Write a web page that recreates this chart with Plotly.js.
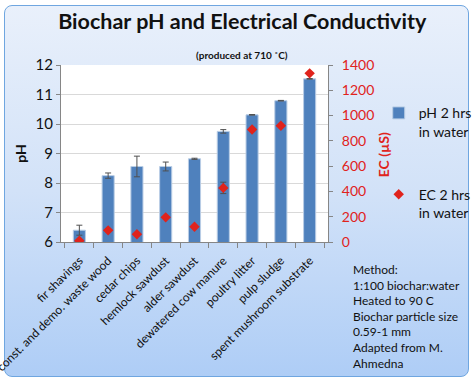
<!DOCTYPE html>
<html><head><meta charset="utf-8">
<script src="https://cdn.plot.ly/plotly-3.0.1.min.js"></script>
<style>
html,body{margin:0;padding:0;background:#fff;}
#wrap{position:absolute;left:4px;top:5px;width:463px;height:370px;border:1px solid #6FA6E0;border-radius:8px;background:linear-gradient(#E9F0FB,#D2E2F8 50%,#AECDF6);}
#chart{position:absolute;left:0;top:0;width:474px;height:383px;}
</style></head>
<body><div id="wrap"></div><div id="chart"></div>
<script>
const categories = ['fir shavings','const. and demo. waste wood','cedar chips','hemlock sawdust','alder sawdust','dewatered cow manure','poultry litter','pulp sludge','spent mushroom substrate'];
const phValues = [6.40, 8.25, 8.56, 8.56, 8.82, 9.75, 10.31, 10.79, 11.53];
const phErrors = [0.17, 0.09, 0.35, 0.15, 0.02, 0.06, 0.01, 0.01, 0.01];
const ecValues = [10, 92, 61, 195, 121, 428, 890, 919, 1334];
const ecErrors = [0, 0, 0, 0, 0, 45, 0, 0, 0];
const phTicks = [6,7,8,9,10,11,12];
const ecTicks = [0,200,400,600,800,1000,1200,1400];
const titleText = 'Biochar pH and Electrical Conductivity';
const subtitleText = '(produced at 710 ˚C)';
const ecAxisTitle = 'EC (µS)';
const methodLines = ['Method:','1:100 biochar:water','Heated to 90 C','Biochar particle size','0.59-1 mm','Adapted from M.','Ahmedna'];

const RED = '#E0231C';
const FONT = 'Lato, "Open Sans", sans-serif';

const traces = [
  {type:'bar', x:categories, y:phValues, name:'pH 2 hrs<br>in water', legendgroup:'a',
   width:0.42, marker:{color:'#4F81BD', line:{color:'#B9CDE5', width:1}},
   error_y:{type:'data', array:phErrors, visible:true, color:'#505050', thickness:1, width:3}},
  {type:'scatter', mode:'markers', x:categories, y:ecValues, yaxis:'y2', name:'EC 2 hrs<br>in water', legendgroup:'b',
   marker:{symbol:'diamond', size:8, color:RED},
   error_y:{type:'data', array:ecErrors, visible:true, color:'#505050', thickness:1, width:3}}
];

const layout = {
  width:474, height:383,
  paper_bgcolor:'rgba(0,0,0,0)', plot_bgcolor:'#FFFFFF',
  margin:{l:61, r:146, t:65, b:141, autoexpand:false},
  font:{family:FONT, color:'#000'},
  title:{text:'<b>'+titleText+'</b>', font:{family:FONT, size:21.5, color:'#111'}, xref:'container', x:0.511, xanchor:'center', yref:'container', y:0.945, yanchor:'middle'},
  showlegend:true,
  legend:{xref:'container', yref:'container', x:0.799, xanchor:'left', y:0.746, yanchor:'top', font:{family:FONT, size:14, color:'#111'}, traceorder:'grouped', tracegroupgap:42, valign:'top', bgcolor:'rgba(0,0,0,0)'},
  xaxis:{type:'category', tickangle:-45, tickfont:{size:12, color:'#111'}, ticks:'outside', tickson:'boundaries', ticklen:5, tickcolor:'#868686', showline:true, linecolor:'#868686', showgrid:false, ticklabelstandoff:6, automargin:false},
  yaxis:{range:[6,12], tickvals:phTicks, gridcolor:'#D9D9D9', ticks:'outside', ticklen:4, tickcolor:'#868686', showline:true, linecolor:'#868686', tickfont:{size:15, color:'#111'}, zeroline:false, automargin:false,
    title:{text:'<b>pH</b>', font:{size:14, color:'#111'}, standoff:5}},
  yaxis2:{overlaying:'y', side:'right', range:[0,1400], tickvals:ecTicks, showgrid:false, zeroline:false, ticks:'outside', ticklen:4, tickcolor:'#868686', showline:true, linecolor:'#868686', tickfont:{size:14, color:RED}, ticklabelstandoff:6, automargin:false},
  annotations:[
    {text:'<b>'+subtitleText+'</b>', xref:'paper', yref:'paper', x:0.678, y:1.058, xanchor:'center', yanchor:'middle', showarrow:false, font:{size:10, color:'#111'}},
    {text:'<b>'+ecAxisTitle+'</b>', xref:'paper', yref:'paper', x:1.206, y:0.49, xanchor:'center', yanchor:'middle', textangle:-90, showarrow:false, font:{size:14, color:RED}},
    {text:methodLines.join('<br>'), xref:'paper', yref:'paper', x:1.086, y:-0.1, xanchor:'left', yanchor:'top', align:'left', showarrow:false, font:{size:12, color:'#111'}}
  ]
};
Plotly.newPlot('chart', traces, layout, {displayModeBar:false, staticPlot:true});
</script></body></html>
